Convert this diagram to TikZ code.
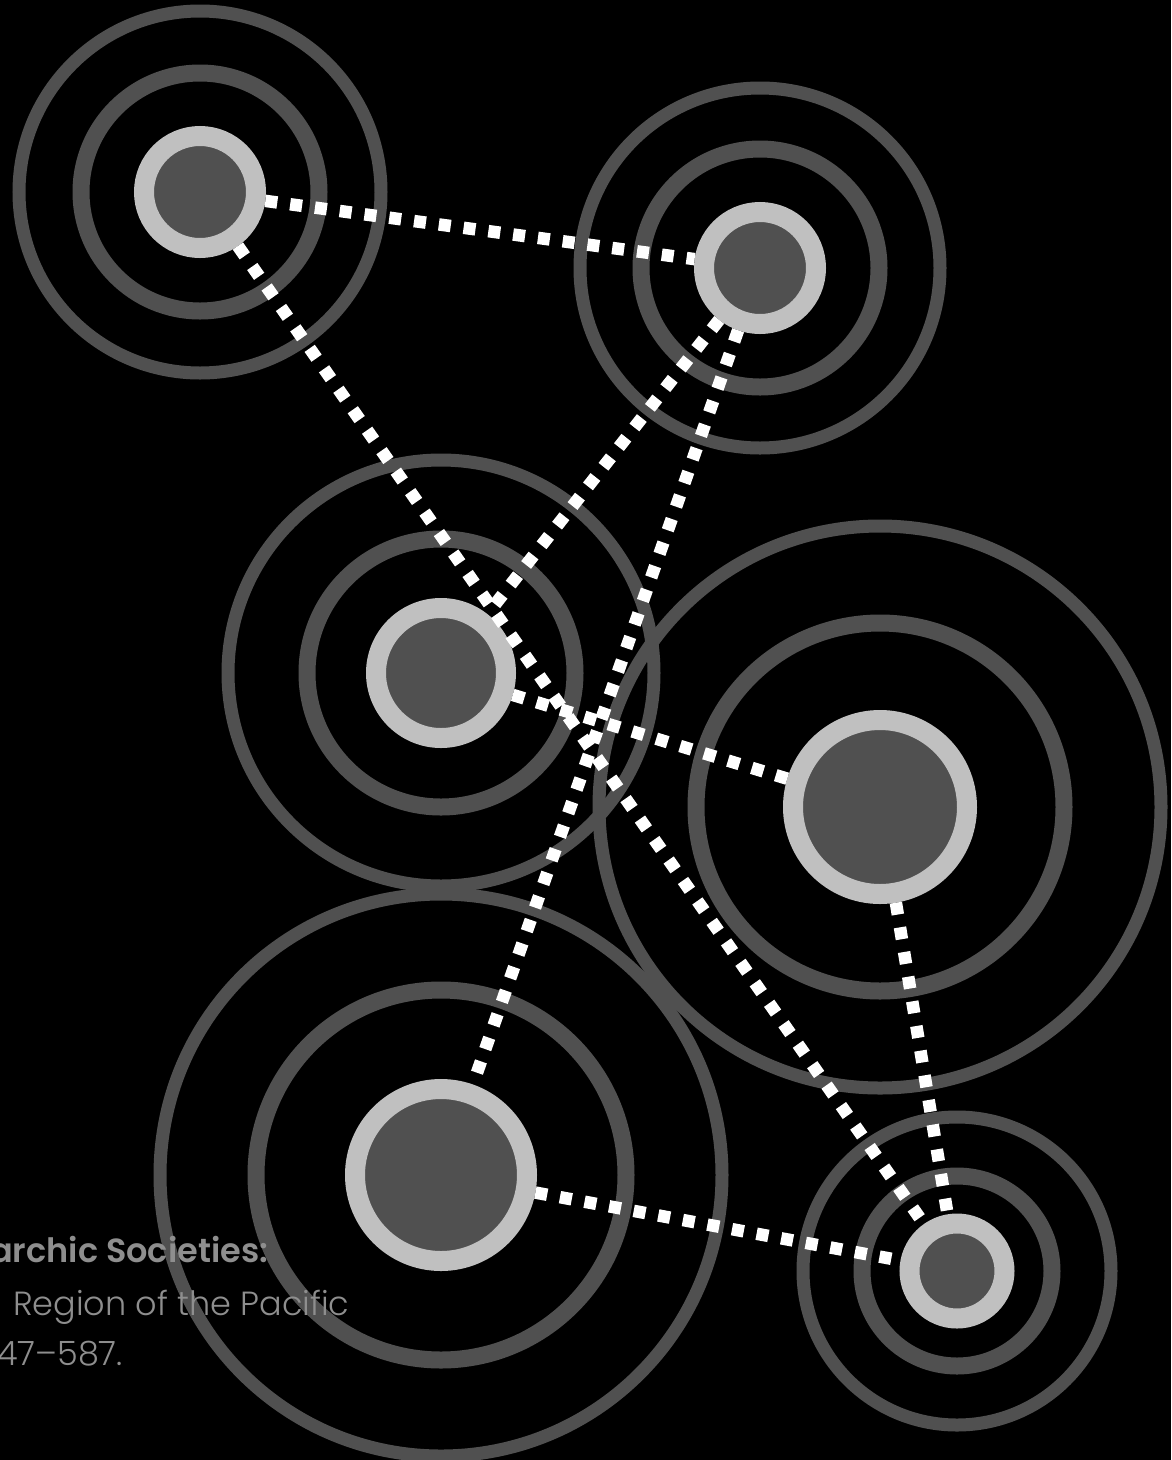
\documentclass[tikz,border=0pt]{standalone}
\usepackage{fontspec}
\setmainfont{Poppins}
\newfontfamily\lightfont{Poppins Light}
\newfontfamily\demifont{Poppins SemiBold}
\usepackage{xcolor}
\definecolor{ringgray}{HTML}{505050}
\definecolor{halo}{HTML}{C0C0C0}
\definecolor{captiongray}{HTML}{8E8E8E}

\begin{document}
\begin{tikzpicture}[
    x=1pt, y=-1pt,
    hub/.style={circle, draw=halo, fill=ringgray, line width=20pt, minimum size=#1, inner sep=0pt},
    inner ring/.style={draw=ringgray, line width=17pt},
    outer ring/.style={draw=ringgray, line width=13pt},
    link/.style={draw=white, line width=12.5pt, dash pattern=on 12pt off 13pt},
    caption/.style={anchor=base west, text=captiongray, inner sep=0pt, font=\fontsize{33.5}{40}\selectfont}
]
    \fill[black] (0,0) rectangle (1171,1460);
    \useasboundingbox (0,0) rectangle (1171,1460);

    % hubs
    \node[hub=112pt] (nw) at (200,192) {};
    \node[hub=112pt] (ne) at (760,268) {};
    \node[hub=130pt] (mid) at (441,673) {};
    \node[hub=174pt] (east) at (880,807) {};
    \node[hub=172pt] (sw) at (441,1175) {};
    \node[hub=95pt] (se) at (957,1271) {};

    % rings round each hub
    \draw[inner ring] (nw) circle (119pt);
    \draw[outer ring] (nw) circle (181pt);
    \draw[inner ring] (ne) circle (119pt);
    \draw[outer ring] (ne) circle (180pt);
    \draw[inner ring] (mid) circle (134pt);
    \draw[outer ring] (mid) circle (213pt);
    \draw[inner ring] (east) circle (184pt);
    \draw[outer ring] (east) circle (281pt);
    \draw[inner ring] (sw) circle (185pt);
    \draw[outer ring] (sw) circle (281pt);
    \draw[inner ring] (se) circle (95pt);
    \draw[outer ring] (se) circle (154pt);

    % links
    \draw[link] (nw) -- (ne);
    \draw[link] (nw) -- (se);
    \draw[link] (ne) -- (mid);
    \draw[link] (ne) -- (sw);
    \draw[link] (mid) -- (east);
    \draw[link] (east) -- (se);
    \draw[link] (sw) -- (se);

    % caption, cut at the left edge
    \node[caption] (title) at (-10,1262) {\demifont archic Societies:};
    \node[caption] (region) at (13,1315) {\lightfont Region of the Pacific};
    \node[caption] (pages) at (-3,1365) {\lightfont 47–587.};
\end{tikzpicture}
\end{document}
